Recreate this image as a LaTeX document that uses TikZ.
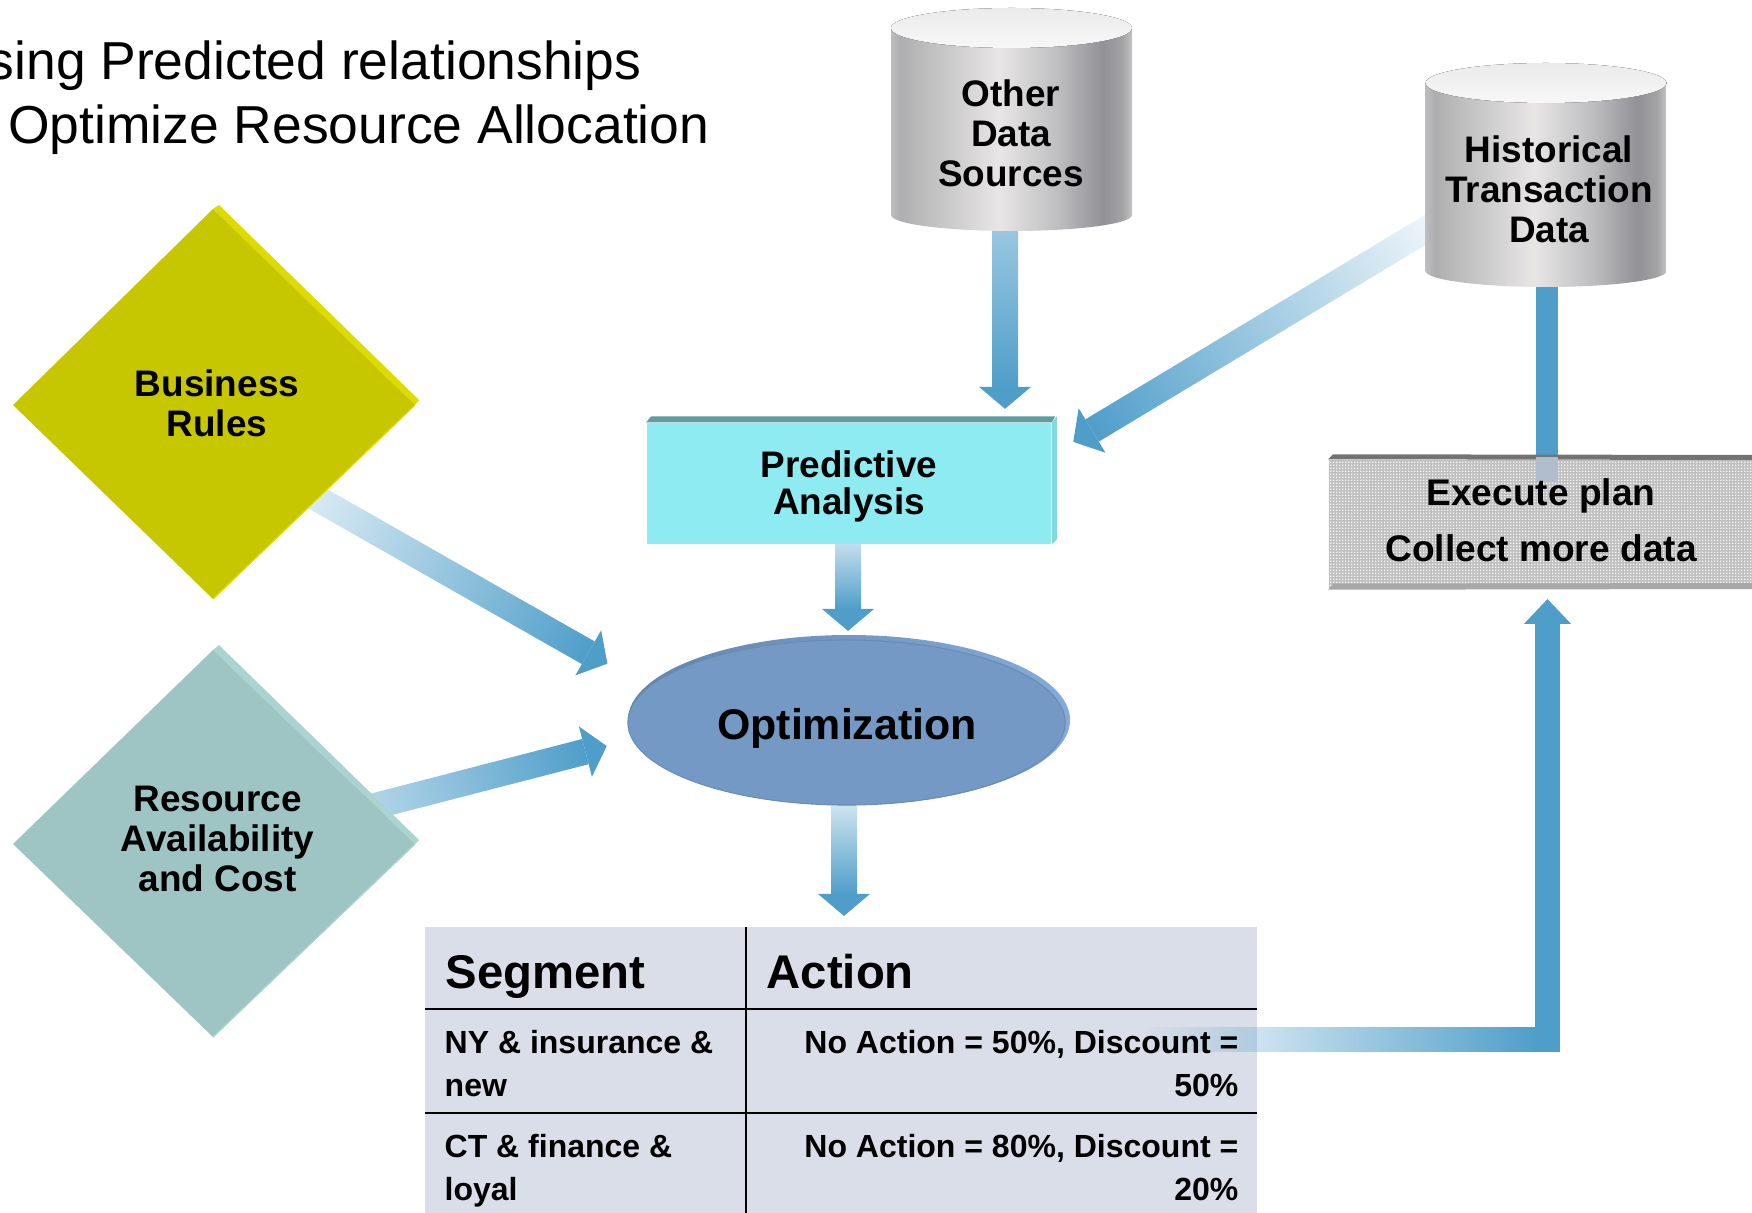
\documentclass[tikz,border=0pt]{standalone}
\usepackage{fontspec}
\setmainfont{Liberation Sans}
\usetikzlibrary{calc,shapes.geometric,arrows.meta,fadings,patterns}
\definecolor{arrowblue}{rgb}{0.31,0.62,0.79}
\definecolor{bizfront}{rgb}{0.78,0.78,0.}
\definecolor{bizedge}{rgb}{0.87,0.86,0.}
\definecolor{resfront}{rgb}{0.62,0.77,0.77}
\definecolor{resedge}{rgb}{0.67,0.83,0.82}
\definecolor{predfront}{rgb}{0.56,0.92,0.95}
\definecolor{predtop}{rgb}{0.37,0.61,0.62}
\definecolor{predside}{rgb}{0.50,0.85,0.87}
\definecolor{execfront}{rgb}{0.75,0.75,0.75}
\definecolor{exectop}{rgb}{0.45,0.45,0.45}
\definecolor{execlow}{rgb}{0.66,0.66,0.66}
\definecolor{execblend}{rgb}{0.69,0.74,0.80}
\definecolor{optfront}{rgb}{0.45,0.60,0.77}
\definecolor{optrim}{rgb}{0.41,0.55,0.71}
\definecolor{optdark}{rgb}{0.39,0.52,0.67}
\definecolor{optlight}{rgb}{0.52,0.67,0.86}
\definecolor{tablebg}{rgb}{0.85,0.87,0.91}
\pgfdeclarehorizontalshading{cylsteel}{100bp}{
  rgb(0bp)=(0.74,0.74,0.75);
  rgb(25bp)=(0.74,0.74,0.75);
  rgb(27bp)=(0.68,0.68,0.69);
  rgb(30bp)=(0.72,0.72,0.72);
  rgb(47.5bp)=(0.91,0.90,0.90);
  rgb(60bp)=(0.74,0.74,0.75);
  rgb(69bp)=(0.57,0.57,0.59);
  rgb(73bp)=(0.64,0.64,0.65);
  rgb(75bp)=(0.77,0.77,0.77);
  rgb(100bp)=(0.77,0.77,0.77)}
\pgfdeclarepatternformonly{finedots}{\pgfpointorigin}{\pgfqpoint{0.85pt}{0.85pt}}{\pgfqpoint{0.85pt}{0.85pt}}{
  \pgfpathrectangle{\pgfpointorigin}{\pgfqpoint{0.42pt}{0.42pt}}\pgfusepath{fill}}
\tikzfading[name=flowfade,left color=transparent!100,right color=transparent!0]
\tikzset{
  boldtext/.style={align=center,inner sep=0pt,font=\fontsize{10.5}{11.4}\selectfont\bfseries},
  rowtext/.style={inner sep=0pt,font=\fontsize{9.1}{10}\selectfont\bfseries},
  headtext/.style={inner sep=0pt,font=\fontsize{13.45}{15}\selectfont\bfseries},
  titletext/.style={anchor=base west,inner sep=0pt,font=\fontsize{15.2}{17}\selectfont},
  flowline/.style={arrowblue,line width=7.1pt},
  tableline/.style={black,line width=0.8pt}
}
\begin{document}
\begin{tikzpicture}[x=0.01cm,y=-0.01cm]
\clip (0,0) rectangle (1752,1213);
\coordinate (otherout) at (1005,200);
\coordinate (predin) at (1005,409);
\coordinate (histout) at (1450,215);
\coordinate (predcorner) at (1073,442);
\coordinate (bizout) at (290,483);
\coordinate (optleft) at (608,664);
\coordinate (resout) at (340,815);
\coordinate (optlow) at (607,746);
\coordinate (predout) at (848,530);
\coordinate (optin) at (848,631);
\coordinate (optout) at (844,780);
\coordinate (tablein) at (844,916);
\coordinate (histbase) at (1547,280);
\coordinate (histend) at (1547,457);
\coordinate (histfade) at (1547,482);
\coordinate (fbstart) at (1145,1027);
\coordinate (fbjoin) at (1536,1052);
\coordinate (fbcorner) at (1547.5,1052);
\coordinate (fbtip) at (1547.5,599);
\foreach \s/\e/\tone in {otherout/predin/50,histout/predcorner/5,bizout/optleft/15,resout/optlow/35,predout/optin/20,optout/tablein/8}{
  \path let \p1=($(\e)-(\s)$) in \pgfextra{
    \pgfmathsetmacro\ang{atan2(\y1,\x1)}\global\let\flowang\ang
    \pgfmathsetmacro\len{veclen(\x1,\y1)/0.28453}\global\let\flowlen\len};
  \begin{scope}[transform canvas={shift={(\s)},rotate=\flowang}]
  \shade [left color=arrowblue!\tone!white,right color=arrowblue] (0,-13) rectangle (\flowlen-22,13);
  \fill [arrowblue] (\flowlen-22,-26) -- (\flowlen,0) -- (\flowlen-22,26) -- cycle;
  \end{scope}
}
\draw [arrowblue,line width=6.4pt] (histbase) -- (histend);
\foreach \cx/\ytop/\ybot in {1011.5/28/215,1546/83/271}{
  \shade [shading=cylsteel] (\cx-120.5,\ytop) -- (\cx-120.5,\ybot) arc [start angle=180,end angle=0,x radius=120.5,y radius=16] -- (\cx+120.5,\ytop) -- cycle;
  \fill [top color=black!8,bottom color=black!3] (\cx,\ytop) ellipse [x radius=120.5,y radius=20];
}
\node [boldtext] (other) at (1011,133) {Other\\Data\\Sources};
\node [boldtext] (hist) at (1549,189) {Historical\\Transaction\\Data};
\fill [bizedge] (219,205) -- (419,400) -- (415,405) -- (213,209) -- cycle;
\fill [bizfront] (213,209) -- (415,405) -- (213,599) -- (13,405) -- cycle;
\draw [bizedge,line width=0.35pt] (415,405) -- (213,599);
\node [boldtext] (bizrules) at (217,403) {Business\\Rules};
\fill [resedge] (219,645) -- (419,840) -- (415,844) -- (213,650) -- cycle;
\fill [resfront] (213,650) -- (415,844) -- (213,1037) -- (13,844) -- cycle;
\draw [resedge,line width=0.35pt] (415,844) -- (213,1037);
\node [boldtext] (resource) at (217.5,839) {Resource\\Availability\\and Cost};
\node [fill=predfront,inner sep=0pt,minimum width=4.04cm,minimum height=1.21cm] (predbox) at (849,483.5) {};
\fill [predtop] (predbox.north west) -- ++(5,-6) -- ++(404,0) -- (predbox.north east) -- cycle;
\fill [predside] (predbox.north east) -- ++(5,-6) -- ++(0,123) -- (predbox.south east) -- cycle;
\node [boldtext,font=\fontsize{10.5}{10.5}\selectfont\bfseries] (pred) at (849,486) {Predictive\\Analysis};
\node [fill=execfront,inner sep=0pt,minimum width=4.23cm,minimum height=1.29cm] (execbox) at (1540.5,524.5) {};
\fill [pattern=finedots,pattern color=white!85!execfront] (execbox.north west) rectangle (execbox.south east);
\fill [exectop] (execbox.north west) -- ++(5,-5) -- (1752,455) -- (1752,460) -- cycle;
\fill [execlow] (execbox.south west) -- ++(5,-6) -- (1752,583) -- (1752,589) -- cycle;
\draw [execblend,line width=6.4pt] (histend) -- (histfade);
\node [boldtext,font=\fontsize{10.55}{15.8}\selectfont\bfseries] (exec) at (1541,520) {Execute plan\\Collect more data};
\shade [left color=optdark,right color=optlight] (849,720) ellipse [x radius=221,y radius=85];
\node [ellipse,fill=optfront,draw=optrim,line width=0.3pt,inner sep=0pt,minimum width=4.37cm,minimum height=1.65cm] (optshape) at (846.5,722.5) {};
\node [boldtext,font=\fontsize{12.2}{14}\selectfont\bfseries] (opt) at (847,728.5) {Optimization};
\fill [tablebg] (425,927) rectangle (1257,1213);
\fill [arrowblue,path fading=flowfade] (fbstart) rectangle (fbjoin);
\draw [flowline,-{Triangle[length=7.1pt,width=13pt]}] (fbcorner) -- (fbtip);
\draw [tableline] (425,1009) -- (1257,1009);
\draw [tableline] (425,1113) -- (1257,1113);
\draw [tableline] (746,927) -- (746,1213);
\node [headtext,anchor=base west] (segment) at (445,988) {Segment};
\node [headtext,anchor=base west] (action) at (766,988) {Action};
\node [rowtext,anchor=base west] (rowa) at (444,1053) {NY \& insurance \&};
\node [rowtext,anchor=base west] (rowb) at (444,1096) {new};
\node [rowtext,anchor=base west] (rowc) at (444,1157) {CT \& finance \&};
\node [rowtext,anchor=base west] (rowd) at (444,1200) {loyal};
\node [rowtext,anchor=base east] (acta) at (1239,1053) {No Action = 50\%, Discount =};
\node [rowtext,anchor=base east] (actb) at (1239,1096) {50\%};
\node [rowtext,anchor=base east] (actc) at (1239,1157) {No Action = 80\%, Discount =};
\node [rowtext,anchor=base east] (actd) at (1239,1200) {20\%};
\node [titletext] (titlea) at (-13,80) {sing Predicted relationships};
\node [titletext] (titleb) at (7.5,144) {Optimize Resource Allocation};
\end{tikzpicture}
\end{document}
